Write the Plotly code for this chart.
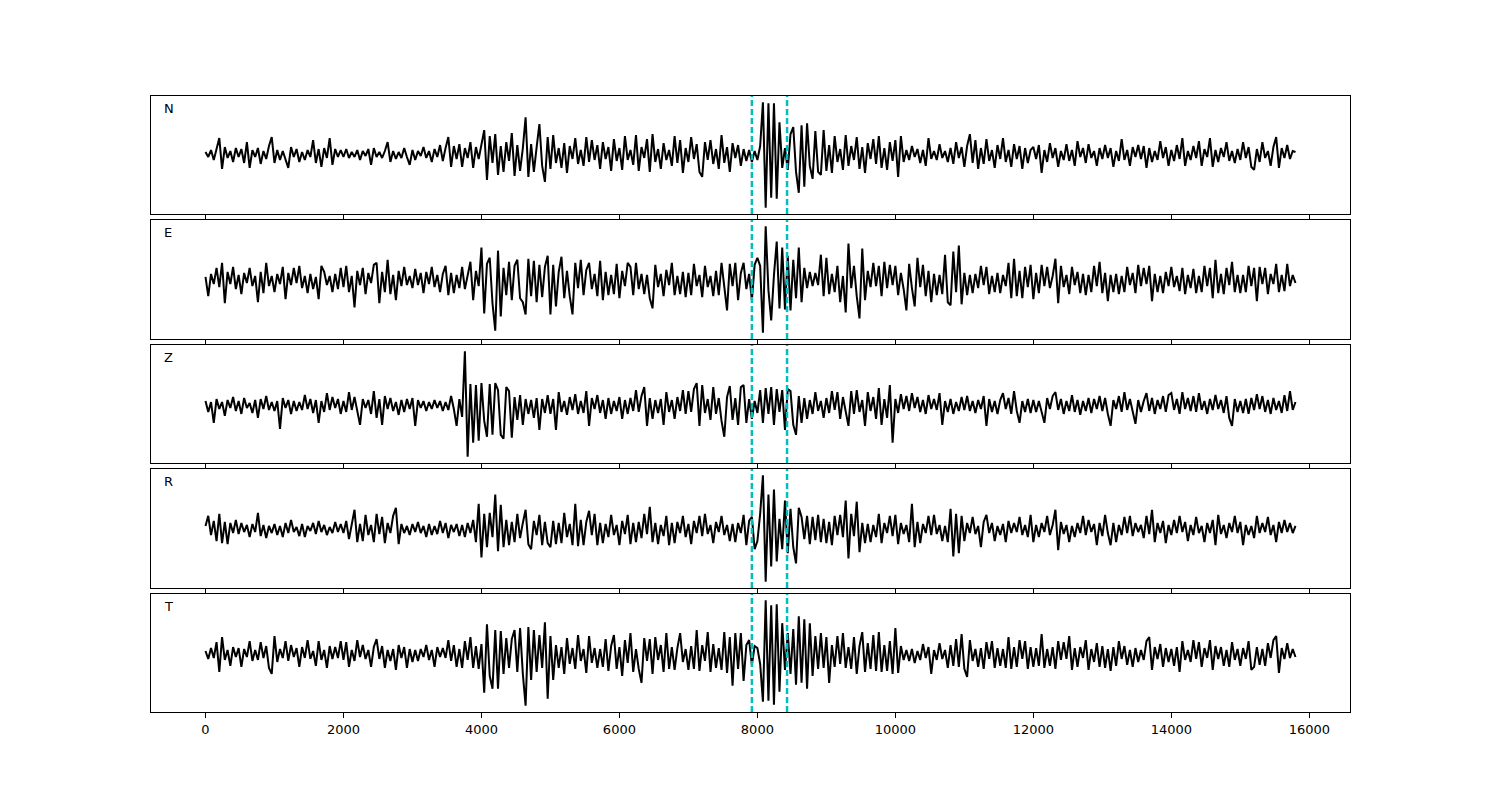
import numpy as np
import plotly.graph_objects as go
from plotly.subplots import make_subplots

# ---------------- data ----------------
components = ["N", "E", "Z", "R", "T"]
t_start, t_end = 0, 15800          # time span of every trace (samples every ~40)
picks = [7920, 8430]               # dashed cyan window markers
x_tick_vals = list(range(0, 16001, 2000))
x_tick_text = [str(v) for v in x_tick_vals]

N = [
    2, -3, 4, -6, 5, 16, -15, 7, -4, 3, -8, 6, -3, 5, -9, 12, -14, 4, -3, 6, -10, 3, -5, 8, 17,
    -9, 4, -6, 3, -5, -14, 7, -3, 5, -8, 2, -6, 4, -3, 14, -9, 5, -13, 6, -4, 16, -11, 5, -3, 4,
    -3, 5, -4, 2, -3, 4, -6, 3, -2, 5, -11, 6, -3, 2, -4, 3, 12, -8, 3, -5, 2, -4, 6, -3, -11,
    4, -6, 3, -2, 7, -4, 3, -8, 5, -3, 9, -7, 6, 17, -13, 8, -5, 10, -13, 6, -4, 12, -14, 7, -5,
    10, 24, -26, 18, -9, 20, -21, 8, -18, 12, -7, 21, -22, 9, -17, 6, 37, -23, 10, -18, 7, 30, -12, -28, 17,
    -15, 19, -9, 6, -14, 11, -19, 8, -5, 16, -10, 4, -12, 17, -8, 14, -6, 9, -15, 12, -5, 7, -17, 15, -7,
    6, -16, 18, -6, 4, -11, 19, -17, 7, -4, 15, -18, 20, -8, 5, -15, 11, -6, 4, -12, 18, -9, 14, -19, 6,
    -8, 17, -5, 10, -18, -23, 12, -6, 14, -10, 5, -15, 19, -9, 7, -18, 11, -4, 9, -12, 5, -7, 4, -8, 3,
    -6, 8, 52, -54, 51, -44, 51, -45, 32, -14, 6, -16, 20, 27, -18, -39, 29, -33, 31, -12, -25, 23, -18, -21, 24,
    -17, 9, -19, 18, -8, 5, -16, 19, -12, 8, -6, 17, -15, 7, -19, 11, -5, 15, -10, 18, -14, 6, -16, 12, -7,
    14, -23, 18, -8, 4, -6, 8, -3, 5, -9, 4, -12, 16, -5, 3, -6, 10, -4, 3, -8, 6, -10, 12, -4, 7,
    -13, 8, 20, -9, 14, -15, 6, -10, 15, -7, 4, -14, 9, -5, 16, -8, 4, -13, 10, -5, 8, -15, 6, -9, 4,
    7, -5, 9, -19, 4, -8, 11, -4, 6, -13, 3, -6, 10, -7, 4, -12, 13, -3, 6, -9, 10, -4, 3, -12, 6,
    -5, 9, -4, 6, -13, 3, -7, 15, -6, 4, -12, 7, -3, 9, -5, 8, -14, 6, -8, 3, -6, 13, -4, 7, -12,
    4, -7, 9, -5, 16, -12, 3, -6, 8, -4, 13, -12, 5, -3, 16, -13, 4, -8, 6, -3, 12, -7, 3, -9, 5,
    -6, 12, -4, 7, -13, -16, 5, -8, 12, -4, 3, -12, 7, 17, -14, 6, -4, 9, -5, 3, 2,
]

E = [
    3, -16, 6, -4, 12, -7, 17, -23, 8, -4, 13, -9, 5, -14, 7, -3, 12, -6, 4, -22, 8, -13, 17, -6, 4,
    -12, 6, -4, 13, -19, 7, -5, 12, -3, 14, -8, 4, -13, 6, -9, 3, -19, 14, 8, -5, 4, -12, 6, -9, 12,
    -7, 14, -12, 4, -27, 9, -5, 12, -14, 7, -3, 15, 17, -23, 8, -12, 20, -14, 5, -20, 9, -6, 13, -5, 4,
    -8, 11, -5, 7, -13, 8, -4, 13, -7, 5, -12, 6, 14, -15, 7, -13, 5, -8, 13, -9, 6, 18, -20, 9, -6,
    32, -33, 16, 22, -23, -50, 29, -36, 12, -15, 18, -20, 14, 20, -18, -22, -34, 21, -16, 19, -22, 15, -17, 13, 24,
    -34, 15, -26, 8, 23, -18, 9, -16, -34, 17, -8, 20, -15, 10, 17, -9, 6, -16, 19, -20, 8, -15, 5, -14, 16,
    -18, 9, -6, 17, 13, -15, 17, -9, 6, -14, 5, -18, -28, 15, -7, 6, -16, 10, -5, 17, -15, 4, -14, 8, -17,
    7, -15, 16, -6, 5, -17, 14, -7, 4, -16, 9, -15, 17, -8, -30, 16, -6, 17, -20, 7, 17, -9, 6, -20, 15,
    22, 14, -52, 53, -10, -40, 5, 38, -28, 32, -29, 24, -30, 20, -18, 32, -22, 12, -8, 8, -6, 7, -5, 25, -16,
    22, -14, 6, -12, 14, -22, 4, -32, 36, -8, 14, -16, -38, 31, -20, 9, -7, 17, -6, 14, -16, 18, -8, 15, -5,
    14, -15, 7, -9, -30, 16, -8, -26, 22, -7, 15, -16, 9, -22, 6, -15, 5, -14, 25, -22, -25, 28, -12, 34, -24,
    7, -15, 5, -13, 6, -8, 14, -5, 13, -14, 4, -12, 7, -13, 5, -6, 17, -18, 21, -16, 9, -18, 13, -7, 15,
    -19, 7, -13, 15, -6, 13, -8, 4, 21, -23, 14, -7, 5, -14, 13, -5, 8, -13, 6, -15, 5, -12, 14, -6, 18,
    -13, 7, -21, 5, -12, 6, -14, 4, -12, 13, -5, 7, -13, 15, -6, 12, -4, 14, -21, 6, -12, 4, -13, 8, -6,
    13, -7, 4, -11, 12, -14, 5, -8, 11, -13, 4, -12, 14, -6, 12, -18, 20, -13, 6, -14, 12, -5, 18, -12, 5,
    -13, 5, -12, 14, -6, 12, -21, 13, -4, 12, -14, 6, -4, 16, -12, 5, -11, 16, -6, 5, -3,
]

Z = [
    4, -7, 3, -18, 6, -4, 3, -11, 5, -3, 8, -6, 4, -9, 7, -3, 2, -8, 5, -13, 6, -4, 9, -5, 3,
    -6, 4, -24, 7, -3, 5, -9, 4, -6, 3, -5, 10, -4, 6, -8, 5, -18, 4, -7, 12, -5, 8, -3, 6, -9,
    4, -7, 13, -5, 8, -6, -20, 6, -3, 5, -9, 14, -13, 6, -20, 9, -4, 7, -6, 3, -10, 5, -7, 6, -4,
    7, -21, 5, -3, 4, -6, 3, -4, 5, -3, 4, -6, 3, -5, 9, -4, -21, 6, -12, 54, -52, 21, -38, 20, -36,
    22, -16, -32, 21, -30, 22, 15, -30, -34, 18, 14, -33, 8, -15, 10, -20, 6, -9, 5, -13, 7, -25, 6, -8, 10,
    -9, 6, -25, 13, -7, 4, -10, 8, -5, 11, -9, 4, -8, 14, -21, 7, -4, 10, -8, 5, -14, 7, -9, 4, -6,
    8, -14, 5, -9, 7, -6, 15, -7, 9, 18, -21, 7, -14, 5, -8, 6, -20, 13, -7, 5, -14, 8, -6, 15, -9,
    14, -7, 16, 22, -21, 20, -8, 6, -15, 18, -9, 7, -16, -32, 8, 19, -15, 7, -20, 18, 20, -18, 6, -14, 4,
    -8, 15, -18, 17, -9, 18, -20, 16, -7, 15, -25, 16, 14, -20, -30, 9, -18, 7, -14, 5, -9, 13, -6, 4, -13,
    7, -8, 14, -5, 13, -14, 8, -6, -21, 14, -9, 15, -7, 5, -21, 13, -6, 8, -14, 17, -20, 6, -13, 20, -38,
    6, -8, 11, -4, 9, -6, 12, -3, 8, -7, 5, -9, 10, -4, 6, -5, 12, -20, 4, -7, 6, -9, 3, -6, 8,
    -5, 9, -6, 4, -8, 5, -4, 9, -21, 6, -7, 4, -9, 5, 12, -4, 7, -9, 14, -6, -18, 4, -7, 6, -8,
    5, -7, 4, -8, -18, 7, -4, 9, 13, -5, 6, -9, 4, -6, 10, -7, 5, -10, 4, -6, 7, -8, 6, -4, 9,
    -6, 7, -9, -21, 5, -4, 9, -7, 13, -5, 6, -8, -19, 5, -7, 4, 12, -6, 7, -9, 5, -4, 9, -7, 10,
    12, -5, 6, -9, 13, -4, 7, -6, 9, -7, 12, -5, 4, -9, 6, -5, 10, -4, 5, -8, 9, -13, -21, 6, -7,
    4, -8, 6, -9, 7, -5, 11, -4, 9, -7, 5, -9, 7, -5, 4, -8, 10, -6, 14, -5, 3,
]

R = [
    3, 13, -6, 8, -12, 15, -14, 7, -15, 6, -4, 9, -5, 6, -3, 4, -8, 5, -3, 16, -7, 4, -9, 3, -4,
    5, -6, 3, -8, 6, -4, 9, -3, 2, -7, 5, -8, 3, -2, 6, -5, 8, -3, 4, -6, 2, -4, 7, -3, 5,
    -4, 8, -10, 6, 19, -13, 5, -12, 14, -6, 4, -13, 15, -5, 12, -14, 6, -4, 13, 21, -15, 5, -4, 3, -6,
    5, -3, 7, -4, 3, -8, 5, -6, 3, -5, 8, -4, 6, -9, 4, -3, 5, -7, 4, -8, 6, -4, 9, -13, 25,
    -28, 15, -18, 16, -8, 34, -22, 24, -18, 9, -16, 7, -13, 15, -9, 6, 19, -15, -20, 8, -6, 14, -16, 7, -14,
    -18, 8, -15, 6, -14, 16, -8, 5, -16, 25, -17, 9, -16, 7, 18, -6, 15, -16, 6, -14, 5, -8, 14, -6, 4,
    -16, 8, -5, 14, -15, 6, -13, 7, -9, 15, -5, 22, -13, 6, -15, 4, -7, 13, -16, 6, -14, 7, -4, 13, -8,
    5, -15, 8, -4, 13, -7, 15, -5, 4, -14, 7, -3, 13, -6, 4, -12, 5, -13, 6, -4, 14, -16, 8, 12, -20,
    -12, 15, 53, -52, 34, -37, 39, -32, 10, -20, 28, -24, 20, -18, -34, 21, 12, -10, 13, -15, 12, -11, 14, -13, 10,
    -14, 7, -16, 13, -6, 14, -8, 28, -29, 15, -7, 27, -23, 6, -14, 5, -13, 4, -8, 15, -14, 6, -4, 13, -7,
    14, -15, 6, -5, 4, -13, 25, -18, 7, -14, 5, -4, 13, -6, 14, -5, 4, -12, 3, -13, 20, -27, 15, -24, 13,
    -12, 6, -4, 12, -5, 3, -18, 7, 14, -4, 6, -12, 3, -6, 5, -13, 8, -4, 6, -3, 12, -6, 4, -8, 14,
    -13, 4, -8, 6, -3, 13, -6, 4, 19, -21, 7, -5, 4, -13, 3, -8, 6, -4, 13, -6, 9, -3, 5, -16, 6,
    -7, 14, -4, -16, 6, -13, 4, -6, 12, -4, 13, -7, 6, -3, 4, -9, 13, -5, 19, -13, 6, -4, 8, -14, 4,
    -6, 9, -4, 13, -3, 7, -12, 4, -6, 12, -4, 3, -13, 6, -4, 9, -16, 14, -5, 4, -9, 6, -3, 13, -4,
    7, -16, 4, -6, 3, -9, 13, -4, 6, -3, 12, -6, 4, -13, 7, -4, 9, -3, 6, -4, 3,
]

T = [
    3, -5, 6, -4, 12, -18, 17, -6, 4, -12, 7, -3, 6, -13, 5, -3, 13, -7, 4, -6, 12, -4, 8, -14, -20,
    18, -8, 5, -4, 13, -7, 9, -3, 6, -13, 7, -4, 14, -5, 3, -12, 13, -6, 4, -14, 8, -5, 7, -4, 13,
    -6, 12, -13, 4, -7, 14, -3, 9, -5, 4, -13, 7, 15, -5, 8, -14, 4, -7, 5, -16, 9, -4, 7, -14, 5,
    -8, 4, -7, 5, -3, 9, -6, 4, -13, 7, -3, 6, -4, 14, -7, 9, -13, 5, -14, 13, -6, 17, -14, 8, -15,
    10, -39, 30, -22, -35, 24, -35, 23, -20, 16, -14, 15, 24, -18, 26, -20, -52, 27, -26, 24, -18, 19, -14, 32, -45,
    18, -26, 9, -14, 7, -20, 16, -10, 6, -15, 19, -7, 5, -19, 18, -9, 6, -14, 5, -13, 15, -17, 8, 19, -15,
    7, -22, 14, -9, 21, -18, 5, -15, -29, 16, -7, 15, -20, 17, -6, 9, -18, 21, -15, 7, -16, 6, 21, -8, 5,
    -16, 8, -15, 24, -17, 9, -7, 22, -18, 10, -14, 6, -16, 22, -19, 17, -32, 21, -15, 21, -27, 9, 14, -11, 8,
    6, -10, -48, 54, -47, 49, -51, 50, -38, 31, -16, 21, -20, 25, -31, 38, -29, 35, -35, 31, -22, 18, -15, 21, -14,
    17, -29, 9, -13, 18, -10, 21, -14, 7, -15, 17, -20, 8, 22, -18, 11, -15, 19, -17, 22, -18, 9, -17, 13, -20,
    26, -19, 8, -6, 4, -7, 5, -9, 3, -6, 10, -4, 7, -20, 4, -6, 11, -5, 4, -14, 9, -12, 15, -13, 20,
    -15, -23, 14, -7, 5, -13, 6, -15, 12, -5, 13, -14, 6, -12, 5, -14, 17, -15, 7, -13, 14, -5, 13, -15, 7,
    -13, 6, -12, 20, -14, 5, -12, 7, -15, 13, -6, 12, -5, 18, -16, 6, -13, 7, -4, 14, -16, 5, -8, 11, -13,
    8, -14, 5, -17, 7, -12, 13, -5, 8, -11, 4, -13, 6, -8, 4, -6, 13, 17, -16, 7, -5, 10, -13, 6, -8,
    5, -12, 7, -18, 13, -6, 4, -8, 14, -5, 12, -13, 6, -4, 14, -16, 8, -5, 7, -12, 4, -13, 12, -6, 5,
    -12, 6, -5, 13, -16, -13, 7, -11, 5, -12, 11, -4, 14, 18, -19, 6, -5, 11, -4, 5, -3,
]

traces = {"N": N, "E": E, "Z": Z, "R": R, "T": T}

# ---------------- figure ----------------
W, H = 1500, 800
OFF = 8  # page body margin of the html page
x_dom = [(151 - OFF) / W, (1350 - OFF) / W]
panel_px = [(96, 214), (220, 339), (345, 463), (469, 588), (594, 712)]
y_doms = [[1 - (b - OFF) / H, 1 - (t - OFF) / H] for (t, b) in panel_px]

fig = make_subplots(rows=5, cols=1, shared_xaxes=True)

FONT = "DejaVu Sans"
CYAN = "#00BFBF"

for i, comp in enumerate(components):
    vals = np.asarray(traces[comp], dtype=float)
    tt = np.linspace(t_start, t_end, len(vals))
    fig.add_trace(
        go.Scatter(x=tt, y=vals, mode="lines",
                   line=dict(color="black", width=2),
                   showlegend=False, hoverinfo="skip"),
        row=i + 1, col=1,
    )
    lo, hi = vals.min(), vals.max()
    pad = 0.06 * (hi - lo)
    fig.update_yaxes(row=i + 1, col=1, domain=y_doms[i], range=[lo - pad, hi + pad],
                     showticklabels=False, ticks="", showgrid=False, zeroline=False,
                     showline=True, mirror=True, linecolor="black", linewidth=1)
    fig.update_xaxes(row=i + 1, col=1, domain=x_dom, range=[-790, 16590],
                     tickvals=x_tick_vals, ticktext=x_tick_text,
                     ticks="outside", ticklen=5, tickwidth=1,
                     tickcolor="black", showticklabels=(i == 4),
                     showgrid=False, zeroline=False,
                     showline=True, mirror=True, linecolor="black", linewidth=1,
                     tickfont=dict(family=FONT, size=13, color="black"))
    yref = "y domain" if i == 0 else f"y{i + 1} domain"
    xref = "x" if i == 0 else f"x{i + 1}"
    for p in picks:
        fig.add_shape(type="line", x0=p, x1=p, y0=0, y1=1, xref=xref, yref=yref,
                      line=dict(color=CYAN, width=2.5, dash="6px,3px"), layer="above")
    fig.add_annotation(text=comp, xref=("x domain" if i == 0 else f"x{i + 1} domain"),
                       yref=yref, x=0.009, y=0.895, xanchor="left", yanchor="middle",
                       showarrow=False, font=dict(family=FONT, size=13, color="#000000"))

fig.update_layout(
    width=W, height=H,
    margin=dict(l=0, r=0, t=0, b=0),
    plot_bgcolor="white", paper_bgcolor="white",
    font=dict(family=FONT, size=13, color="black"),
)

fig.write_html("out.html")
